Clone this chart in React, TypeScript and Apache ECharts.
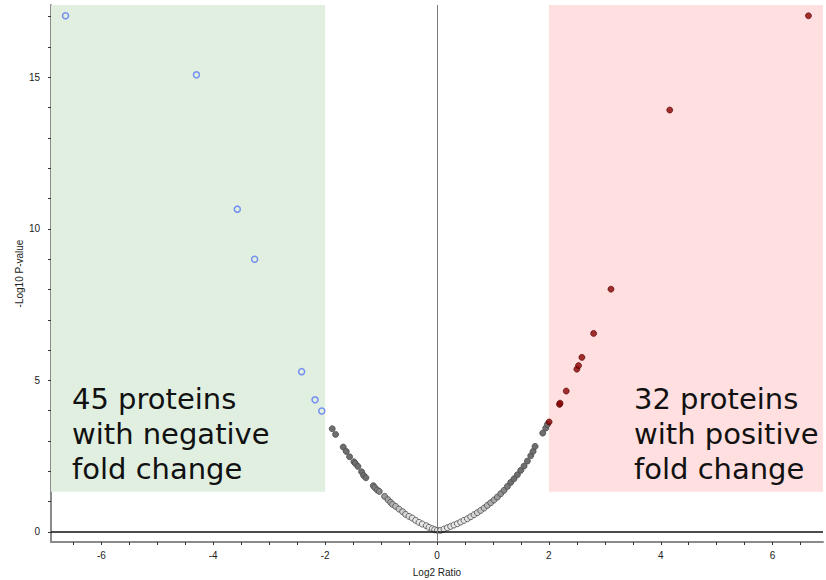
import React, { useEffect, useRef } from "react";
import * as echarts from "echarts";

// Axis extents
const X_MIN = -6.9;
const X_MAX = 6.9;
const Y_MIN = -0.33;
const Y_MAX = 17.385;

// Thresholds for highlighted regions
const FC_NEG = -2;
const FC_POS = 2;
const P_THRESHOLD = 1.33;

// Tick labels / tick positions
const xLabelValues = [-6, -4, -2, 0, 2, 4, 6];
const xTickValues = [-6.5, -6, -5.5, -5, -4.5, -4, -3.5, -3, -2.5, -2, -1.5, -1, -0.5, 0, 0.5, 1, 1.5, 2, 2.5, 3, 3.5, 4, 4.5, 5, 5.5, 6, 6.5];
const yLabelValues = [0, 5, 10, 15];
const yTickValues = [0, 1, 2, 3, 4, 5, 6, 7, 8, 9, 10, 11, 12, 13, 14, 15, 16, 17];

// Non-significant proteins (gray)
const grayX = [
  -1.873, -1.813, -1.676, -1.622, -1.563, -1.485, -1.461, -1.414, -1.348, -1.312, -1.271,
  -1.139, -1.11, -1.068, -1.032, -0.937, -0.877, -0.829, -0.794, -0.74, -0.68, -0.615,
  -0.561, -0.501, -0.442, -0.382, -0.322, -0.263, -0.191, -0.143, -0.084, -0.042, 0.006,
  0.065, 0.125, 0.185, 0.244, 0.304, 0.364, 0.423, 0.483, 0.543, 0.602, 0.662, 0.721,
  0.781, 0.841, 0.9, 0.96, 1.019, 1.079, 1.139, 1.198, 1.258, 1.318, 1.377, 1.437, 1.497,
  1.556, 1.616, 1.676, 1.717, 1.753, 1.89, 1.944, 1.974,
];
const grayY = [
  3.406, 3.219, 2.801, 2.658, 2.483, 2.318, 2.263, 2.164, 1.988, 1.867, 1.79,
  1.527, 1.461, 1.384, 1.34, 1.175, 1.065, 0.977, 0.911, 0.845, 0.757, 0.669,
  0.581, 0.515, 0.461, 0.383, 0.318, 0.263, 0.208, 0.153, 0.109, 0.076, 0.054,
  0.054, 0.098, 0.142, 0.186, 0.23, 0.274, 0.329, 0.383, 0.439, 0.504, 0.57, 0.636,
  0.713, 0.79, 0.878, 0.966, 1.055, 1.153, 1.263, 1.373, 1.504, 1.636, 1.757, 1.889, 2.032,
  2.175, 2.34, 2.516, 2.658, 2.823, 3.263, 3.428, 3.549,
];

// Up-regulated proteins (red)
const redX = [2.004, 2.19, 2.2, 2.31, 2.5, 2.53, 2.59, 2.8, 3.11, 4.16, 6.64];
const redY = [3.63, 4.21, 4.25, 4.65, 5.37, 5.49, 5.76, 6.55, 8.01, 13.92, 17.03];

// Down-regulated proteins (blue)
const blueX = [-6.64, -4.3, -3.57, -3.26, -2.42, -2.18, -2.06];
const blueY = [17.03, 15.08, 10.65, 9.0, 5.29, 4.36, 3.99];

const negLines = ["45 proteins", "with negative", "fold change"];
const posLines = ["32 proteins", "with positive", "fold change"];

const zip = (xs: number[], ys: number[]) => xs.map((x, i) => [x, ys[i]]);

export default function App() {
  const ref = useRef<HTMLDivElement>(null);

  useEffect(() => {
    document.body.style.margin = "0";
    if (!ref.current) return;
    const chart = echarts.init(ref.current, undefined, { renderer: "svg" });
    const labelFont = "Liberation Sans, Arial, sans-serif";
    const bigFont = "29px 'DejaVu Sans', sans-serif";
    const textEls = (lines: string[], left: number) =>
      lines.map((t, i) => ({
        type: "text",
        left,
        top: 384 + i * 35,
        z: 10,
        style: { text: t, font: bigFont, fill: "#111" },
      }));
    chart.setOption({
      animation: false,
      backgroundColor: "#ffffff",
      grid: { left: 51, right: 3, top: 5, bottom: 38, containLabel: false, outerBoundsMode: "none" },
      xAxis: {
        type: "value",
        min: X_MIN,
        max: X_MAX,
        name: "Log2 Ratio",
        nameLocation: "middle",
        nameGap: 25,
        nameMoveOverlap: false,
        nameTextStyle: { color: "#222", fontSize: 10, fontFamily: labelFont },
        axisLine: { show: true, onZero: false, lineStyle: { color: "#8a8a8a", width: 2 } },
        axisTick: { show: true, inside: false, length: 3, customValues: xTickValues, lineStyle: { color: "#333", width: 1 } },
        axisLabel: { customValues: xLabelValues, margin: 8, color: "#222", fontSize: 10, fontFamily: labelFont },
        splitLine: { show: false },
      },
      yAxis: {
        type: "value",
        min: Y_MIN,
        max: Y_MAX,
        name: "-Log10 P-value",
        nameLocation: "middle",
        nameGap: 27,
        nameRotate: 90,
        nameMoveOverlap: false,
        nameTextStyle: { color: "#222", fontSize: 10, fontFamily: labelFont },
        axisLine: { show: true, onZero: false, lineStyle: { color: "#8a8a8a", width: 2 } },
        axisTick: { show: true, inside: false, length: 3, customValues: yTickValues, lineStyle: { color: "#333", width: 1 } },
        axisLabel: { customValues: yLabelValues, margin: 11, color: "#222", fontSize: 10, fontFamily: labelFont },
        splitLine: { show: false },
      },
      visualMap: [
        {
          type: "continuous",
          show: false,
          seriesIndex: 1,
          dimension: 1,
          min: 0.4,
          max: 1.6,
          inRange: { color: ["#e6e6e6", "#6e6e6e"] },
        },
      ],
      series: [
        {
          type: "scatter",
          data: [],
          z: 1,
          silent: true,
          markArea: {
            silent: true,
            data: [
              [
                { xAxis: X_MIN, yAxis: P_THRESHOLD, itemStyle: { color: "#e0efe0" } },
                { xAxis: FC_NEG, yAxis: Y_MAX },
              ],
              [
                { xAxis: FC_POS, yAxis: P_THRESHOLD, itemStyle: { color: "#ffdfdf" } },
                { xAxis: X_MAX, yAxis: Y_MAX },
              ],
            ],
          },
          markLine: {
            silent: true,
            symbol: "none",
            label: { show: false },
            data: [
              { yAxis: 0, lineStyle: { color: "#111", width: 1.5, type: "solid" } },
              { xAxis: 0, lineStyle: { color: "#7a7a7a", width: 1, type: "solid" } },
            ],
          },
        },
        {
          type: "scatter",
          z: 2,
          symbol: "circle",
          symbolSize: 6,
          data: zip(grayX, grayY),
          itemStyle: { borderColor: "#4a4a4a", borderWidth: 0.8, opacity: 1 },
        },
        {
          type: "scatter",
          z: 3,
          symbol: "circle",
          symbolSize: 6,
          data: zip(redX, redY),
          itemStyle: { color: "#8b0000", borderColor: "#500000", borderWidth: 0.8 },
        },
        {
          type: "scatter",
          z: 3,
          symbol: "circle",
          symbolSize: 6,
          data: zip(blueX, blueY),
          itemStyle: { color: "rgba(255,255,255,0)", borderColor: "#5a78f5", borderWidth: 1.5 },
        },
      ],
      graphic: [...textEls(negLines, 72), ...textEls(posLines, 634)],
    });
    return () => chart.dispose();
  }, []);

  return <div ref={ref} style={{ width: 826, height: 580 }} />;
}
